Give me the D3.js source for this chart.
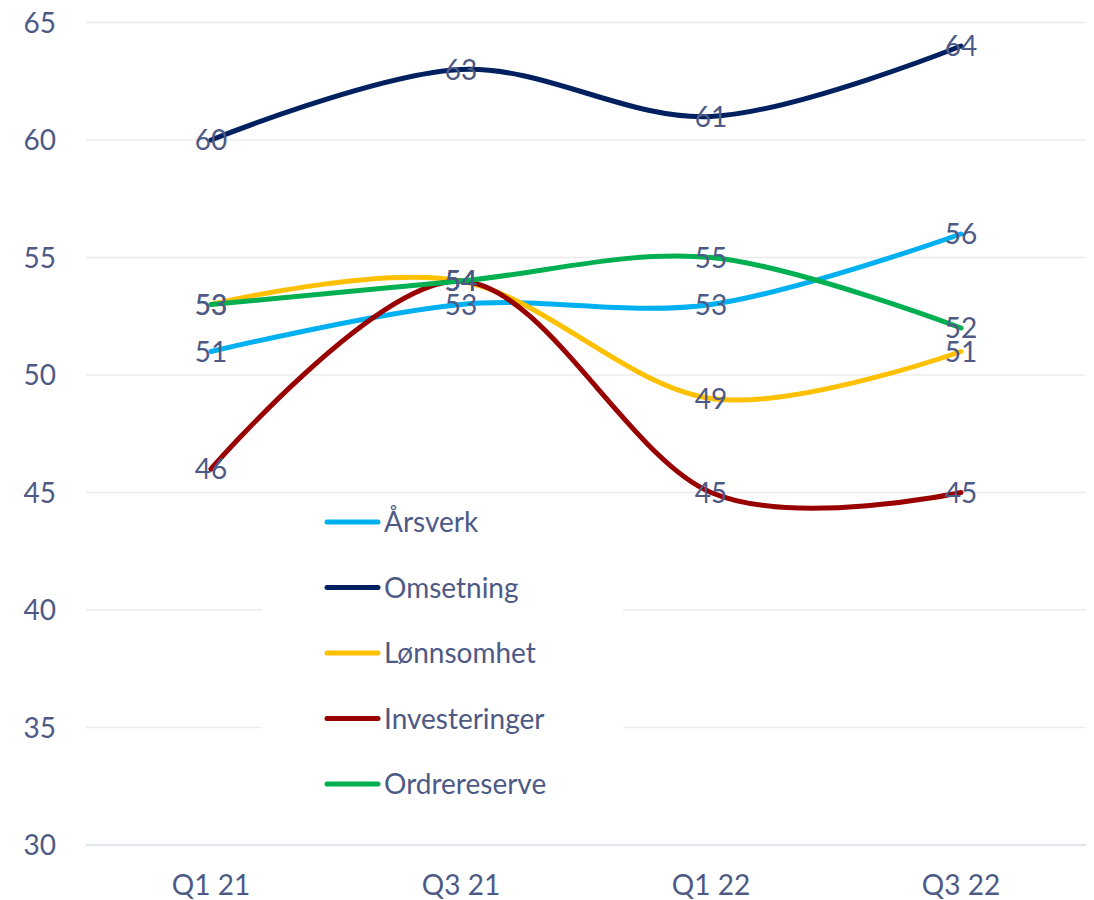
<!DOCTYPE html>
<html>
<head>
<meta charset="utf-8">
<script src="https://cdn.jsdelivr.net/npm/d3@7"></script>
<style>
  body { margin: 0; background: #fff; }
  svg { display: block; font-family: Lato, "Open Sans", sans-serif; }
</style>
</head>
<body>
<svg id="chart" width="1094" height="900"></svg>
<script>
// data
const quarters = ["Q1 21", "Q3 21", "Q1 22", "Q3 22"];
const arsverk = [51, 53, 53, 56];
const omsetning = [60, 63, 61, 64];
const lonnsomhet = [53, 54, 49, 51];
const investeringer = [46, 54, 45, 45];
const ordrereserve = [53, 54, 55, 52];
const yTicks = [30, 35, 40, 45, 50, 55, 60, 65];

const series = [
  { name: "Årsverk", values: arsverk, color: "#00b0f0" },
  { name: "Omsetning", values: omsetning, color: "#002060" },
  { name: "Lønnsomhet", values: lonnsomhet, color: "#ffc000" },
  { name: "Investeringer", values: investeringer, color: "#990000" },
  { name: "Ordrereserve", values: ordrereserve, color: "#00b050" }
];

const textColor = "#4e5a86";
const svg = d3.select("#chart");

const x = d3.scaleBand().domain(quarters).range([86, 1086]);
const y = d3.scaleLinear().domain([30, 65]).range([845, 22.5]);

// gridlines
svg.append("g")
  .selectAll("line")
  .data(yTicks.filter(d => d > 30))
  .join("line")
    .attr("x1", 86).attr("x2", 1086)
    .attr("y1", d => y(d)).attr("y2", d => y(d))
    .attr("stroke", "#ececec")
    .attr("stroke-width", 1.5);

// x axis line
svg.append("line")
  .attr("x1", 86).attr("x2", 1086)
  .attr("y1", y(30)).attr("y2", y(30))
  .attr("stroke", "#d6dce9")
  .attr("stroke-width", 1.5);

// y tick labels
svg.append("g")
  .selectAll("text")
  .data(yTicks)
  .join("text")
    .attr("x", 56)
    .attr("y", d => y(d))
    .attr("dy", "0.36em")
    .attr("text-anchor", "end")
    .attr("font-size", 28)
    .attr("fill", textColor)
    .text(d => d);

// x tick labels
svg.append("g")
  .selectAll("text")
  .data(quarters)
  .join("text")
    .attr("x", d => x(d) + x.bandwidth() / 2)
    .attr("y", 885)
    .attr("dy", "0.36em")
    .attr("text-anchor", "middle")
    .attr("font-size", 28)
    .attr("fill", textColor)
    .text(d => d);

// legend box (hides gridlines behind it)
svg.append("rect")
  .attr("x", 262).attr("y", 497)
  .attr("width", 361).attr("height", 313)
  .attr("fill", "#fff");

const legend = svg.append("g")
  .selectAll("g")
  .data(series)
  .join("g")
    .attr("transform", (d, i) => `translate(0,${522 + i * 65.5})`);

legend.append("line")
  .attr("x1", 327).attr("x2", 378)
  .attr("stroke", d => d.color)
  .attr("stroke-width", 5)
  .attr("stroke-linecap", "round");

legend.append("text")
  .attr("x", 384)
  .attr("dy", "0.36em")
  .attr("font-size", 28)
  .attr("fill", textColor)
  .text(d => d.name);

// lines
const line = d3.line()
  .x((d, i) => x(quarters[i]) + x.bandwidth() / 2)
  .y(d => y(d))
  .curve(d3.curveCatmullRom.alpha(0));

svg.append("g")
  .selectAll("path")
  .data(series)
  .join("path")
    .attr("d", d => line(d.values))
    .attr("fill", "none")
    .attr("stroke", d => d.color)
    .attr("stroke-width", 5)
    .attr("stroke-linecap", "round");

// data labels on top
const labels = svg.append("g");
series.forEach(s => {
  labels.selectAll(null)
    .data(s.values)
    .join("text")
      .attr("x", (d, i) => x(quarters[i]) + x.bandwidth() / 2)
      .attr("y", d => y(d))
      .attr("dy", "0.36em")
      .attr("text-anchor", "middle")
      .attr("font-size", 28)
      .attr("fill", textColor)
      .text(d => d);
});
</script>
</body>
</html>
